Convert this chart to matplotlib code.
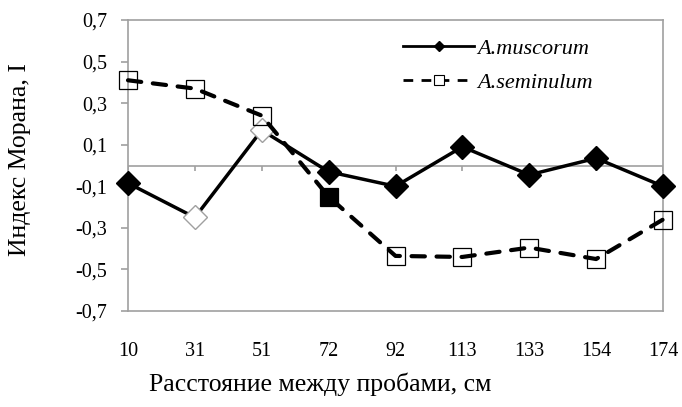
import matplotlib
matplotlib.use("Agg")
import matplotlib.pyplot as plt
import numpy as np

distances = ["10", "31", "51", "72", "92", "113", "133", "154", "174"]
muscorum = [-0.085, -0.25, 0.17, -0.03, -0.10, 0.09, -0.045, 0.035, -0.10]
seminulum = [0.41, 0.37, 0.24, -0.15, -0.435, -0.44, -0.395, -0.45, -0.26]
yticks = [-0.7, -0.5, -0.3, -0.1, 0.1, 0.3, 0.5, 0.7]
ytick_labels = ["-0,7", "-0,5", "-0,3", "-0,1", "0,1", "0,3", "0,5", "0,7"]
muscorum_open = [1, 2]   # indices drawn as open diamonds
seminulum_filled = [3]   # indices drawn as filled squares

plt.rcParams['font.family'] = ['Liberation Serif', 'DejaVu Serif']

W, H = 682, 407
fig = plt.figure(figsize=(W / 100, H / 100), dpi=100)
ax = fig.add_axes([128 / W, 1 - 311 / H, (663 - 128) / W, (311 - 20) / H])

x = np.arange(len(distances))
gray = '#a0a0a0'

ax.axhline(0, color=gray, lw=1.2, zorder=1)
ax.vlines(x, -0.027, 0, color=gray, lw=1.2, zorder=1)

ax.plot(x, muscorum, color='black', lw=2.5, zorder=3)
for i in range(len(x)):
    is_open = i in muscorum_open
    ax.plot(x[i], muscorum[i], marker='D', ms=12, mfc='white' if is_open else 'black',
            mec=gray if is_open else 'black', mew=1.0, zorder=4, clip_on=False)

ax.plot(x, seminulum, color='black', lw=3.0, ls=(0, (3.2, 2.8)),
        zorder=6, dash_capstyle='round', clip_on=False)
for i in range(len(x)):
    filled = i in seminulum_filled
    ax.plot(x[i], seminulum[i], marker='s', ms=13,
            mfc='black' if filled else 'none', mec='black', mew=0.9, zorder=5,
            clip_on=False)

# legend proxies
h1, = ax.plot([], [], color='black', lw=2.0, marker='D', ms=5, mfc='black')
h2, = ax.plot([], [], color='black', lw=2.0, ls=(0, (3.5, 3.0)), marker='s', ms=6.5,
              mfc='white', mec='black', mew=0.8)
leg = fig.legend([h1, h2], ['A.muscorum', 'A.seminulum'], loc='upper left',
                 bbox_to_anchor=(403 / W, 1 - 38 / H), frameon=False,
                 handlelength=3.2, borderpad=0, borderaxespad=0,
                 prop={'family': 'Liberation Serif', 'style': 'italic', 'size': 16},
                 labelspacing=0.62, handletextpad=0.15)

ax.set_xlim(0, len(x) - 1)
ax.set_ylim(-0.7, 0.7)
ax.set_yticks(yticks)
ax.set_yticklabels(ytick_labels)
ax.set_xticks(x)
ax.set_xticklabels(distances)
ax.tick_params(axis='x', length=0, pad=22, labelsize=14.5)
ax.tick_params(axis='y', length=5, width=1.2, color=gray, pad=10, labelsize=14.5)
for s in ax.spines.values():
    s.set_color(gray)
    s.set_linewidth(1.2)

fig.text(20 / W, 1 - 159 / H, 'Индекс Морана, I', rotation=90, ha='center',
         va='center', fontsize=18.5)
fig.text(320 / W, 1 - 384 / H, 'Расстояние между пробами, см', ha='center',
         va='center', fontsize=18.5)

fig.savefig('out.png', dpi=100)
